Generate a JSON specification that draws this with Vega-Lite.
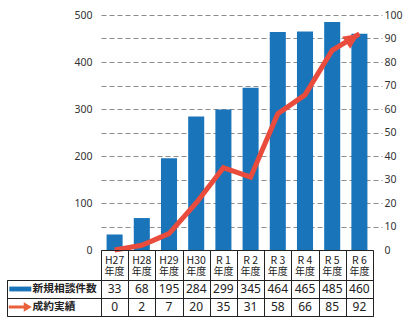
{
  "$schema": "https://vega.github.io/schema/vega-lite/v6.json",
  "autosize": {"type": "pad"},
  "padding": {"left": 6, "top": 10, "right": 5, "bottom": 5},
  "background": "white",
  "config": {"view": {"stroke": null}, "font": "Noto Sans"},
  "columns": 2,
  "align": "each",
  "bounds": "flush",
  "spacing": 0,
  "resolve": {"scale": {"x": "independent", "y": "independent"}},
  "datasets": {
    "main": [
      {"year": "H27", "consult": 33, "deals": 0},
      {"year": "H28", "consult": 68, "deals": 2},
      {"year": "H29", "consult": 195, "deals": 7},
      {"year": "H30", "consult": 284, "deals": 20},
      {"year": "R 1", "consult": 299, "deals": 35},
      {"year": "R 2", "consult": 345, "deals": 31},
      {"year": "R 3", "consult": 464, "deals": 58},
      {"year": "R 4", "consult": 465, "deals": 66},
      {"year": "R 5", "consult": 485, "deals": 85},
      {"year": "R 6", "consult": 460, "deals": 92}
    ],
    "rows": [
      {"row": "consult", "label": "新規相談件数"},
      {"row": "deals", "label": "成約実績"}
    ]
  },
  "concat": [
    {
      "width": 94,
      "height": 235,
      "data": {"values": [{"a": 1}]},
      "mark": {"type": "text", "text": ""}
    },
    {
      "width": 272,
      "height": 235,
      "data": {"name": "main"},
      "encoding": {
        "x": {
          "field": "year", "type": "nominal", "sort": null,
          "scale": {"type": "band", "paddingInner": 0, "paddingOuter": 0},
          "axis": null
        }
      },
      "layer": [
        {
          "mark": {"type": "bar", "color": "#1a74ba", "width": {"band": 0.59}},
          "encoding": {
            "y": {
              "field": "consult", "type": "quantitative",
              "scale": {"domain": [0, 500], "nice": false},
              "axis": {
                "orient": "left", "title": null,
                "values": [0, 50, 100, 150, 200, 250, 300, 350, 400, 450, 500],
                "labelExpr": "datum.value % 100 === 0 ? datum.label : ''",
                "grid": true, "gridDash": [5, 3], "gridColor": "#8c8c8c", "gridWidth": 1,
                "gridOpacity": {"condition": {"test": "datum.value === 0", "value": 0}, "value": 1},
                "domain": false, "ticks": false, "labelPadding": 9,
                "labelFont": "Noto Sans", "labelFontSize": 10.5, "labelColor": "#333"
              }
            }
          }
        },
        {
          "encoding": {
            "y": {
              "field": "deals", "type": "quantitative",
              "scale": {"domain": [0, 100], "nice": false},
              "axis": {
                "orient": "right", "title": null,
                "values": [0, 10, 20, 30, 40, 50, 60, 70, 80, 90, 100],
                "grid": false, "domain": false,
                "ticks": true, "tickSize": 9, "tickDash": [5, 3], "tickColor": "#8c8c8c",
                "tickOpacity": {"condition": {"test": "datum.value === 0", "value": 0}, "value": 1},
                "labelPadding": 2,
                "labelFont": "Noto Sans", "labelFontSize": 10.5, "labelColor": "#333"
              }
            }
          },
          "layer": [
            {
              "mark": {"type": "line", "color": "#e94b3c", "strokeWidth": 5, "strokeCap": "butt", "strokeJoin": "miter"}
            },
            {
              "transform": [{"filter": "datum.year === 'R 6'"}],
              "mark": {
                "type": "point", "shape": "M0,0L-1,-0.45L-1,0.45Z", "size": 1024, "angle": 326,
                "filled": true, "color": "#e94b3c", "opacity": 1, "strokeWidth": 0
              }
            }
          ]
        }
      ],
      "resolve": {"scale": {"y": "independent"}}
    },
    {
      "width": 94,
      "height": 30,
      "data": {"values": [{"a": 1}]},
      "mark": {"type": "text", "text": ""}
    },
    {
      "width": 272,
      "height": 30,
      "view": {"stroke": "#222", "strokeWidth": 1},
      "data": {"name": "main"},
      "encoding": {
        "x": {
          "field": "year", "type": "nominal", "sort": null,
          "scale": {"type": "band", "paddingInner": 0, "paddingOuter": 0},
          "axis": {"title": null, "labels": false, "ticks": false, "domain": false, "grid": true, "tickBand": "extent", "gridColor": "#222", "gridWidth": 1}
        }
      },
      "layer": [
        {
          "mark": {"type": "text", "baseline": "alphabetic", "dy": -1.5, "font": "Noto Sans CJK JP", "fontSize": 10.5, "color": "#222"},
          "encoding": {"text": {"field": "year", "type": "nominal"}}
        },
        {
          "mark": {"type": "text", "text": "年度", "baseline": "top", "dy": 2, "font": "Noto Sans CJK JP", "fontSize": 10, "color": "#222"}
        }
      ]
    },
    {
      "width": 94,
      "height": 36,
      "view": {"stroke": "#222", "strokeWidth": 1},
      "data": {"name": "rows"},
      "encoding": {
        "y": {
          "field": "row", "type": "nominal", "sort": ["consult", "deals"],
          "scale": {"type": "band", "paddingInner": 0, "paddingOuter": 0},
          "axis": {
            "title": null, "labels": false, "ticks": false, "domain": false,
            "grid": true, "tickBand": "extent", "gridColor": "#222", "gridWidth": 1
          }
        }
      },
      "layer": [
        {
          "transform": [{"filter": "datum.row === 'consult'"}],
          "mark": {"type": "point", "shape": "M-1,-0.22H1V0.22H-1Z", "size": 484, "filled": true, "color": "#1a74ba", "opacity": 1, "strokeWidth": 0},
          "encoding": {
            "x": {"datum": "sym", "type": "nominal", "scale": {"type": "band", "domain": ["sym", "txt"], "paddingInner": 0, "paddingOuter": 0.767, "align": 0}, "axis": null}
          }
        },
        {
          "transform": [{"filter": "datum.row === 'deals'"}],
          "mark": {"type": "point", "shape": "M-1,-0.14L0.3,-0.14L0.3,-0.42L1,0L0.3,0.42L0.3,0.14L-1,0.14Z", "size": 529, "filled": true, "color": "#e9603a", "opacity": 1, "strokeWidth": 0},
          "encoding": {
            "x": {"datum": "sym", "type": "nominal", "scale": {"type": "band", "domain": ["sym", "txt"], "paddingInner": 0, "paddingOuter": 0.767, "align": 0}, "axis": null}
          }
        },
        {
          "mark": {"type": "text", "align": "left", "baseline": "middle", "font": "Noto Sans CJK JP", "fontSize": 10.7, "fontWeight": "bold", "color": "#222", "dx": -1},
          "encoding": {
            "x": {"datum": "txt", "type": "nominal", "bandPosition": 0, "scale": {"type": "band", "domain": ["sym", "txt"], "paddingInner": 0, "paddingOuter": 0.767, "align": 0}, "axis": null},
            "text": {"field": "label", "type": "nominal"}
          }
        }
      ]
    },
    {
      "width": 272,
      "height": 36,
      "view": {"stroke": "#222", "strokeWidth": 1},
      "data": {"name": "main"},
      "transform": [{"fold": ["consult", "deals"], "as": ["row", "val"]}],
      "mark": {"type": "text", "font": "Noto Sans", "fontSize": 12, "color": "#222", "baseline": "middle"},
      "encoding": {
        "x": {
          "field": "year", "type": "nominal", "sort": null,
          "scale": {"type": "band", "paddingInner": 0, "paddingOuter": 0},
          "axis": {"title": null, "labels": false, "ticks": false, "domain": false, "grid": true, "tickBand": "extent", "gridColor": "#222", "gridWidth": 1}
        },
        "y": {
          "field": "row", "type": "nominal", "sort": ["consult", "deals"],
          "scale": {"type": "band", "paddingInner": 0, "paddingOuter": 0},
          "axis": {"title": null, "labels": false, "ticks": false, "domain": false, "grid": true, "tickBand": "extent", "gridColor": "#222", "gridWidth": 1}
        },
        "text": {"field": "val", "type": "quantitative"}
      }
    }
  ]
}
